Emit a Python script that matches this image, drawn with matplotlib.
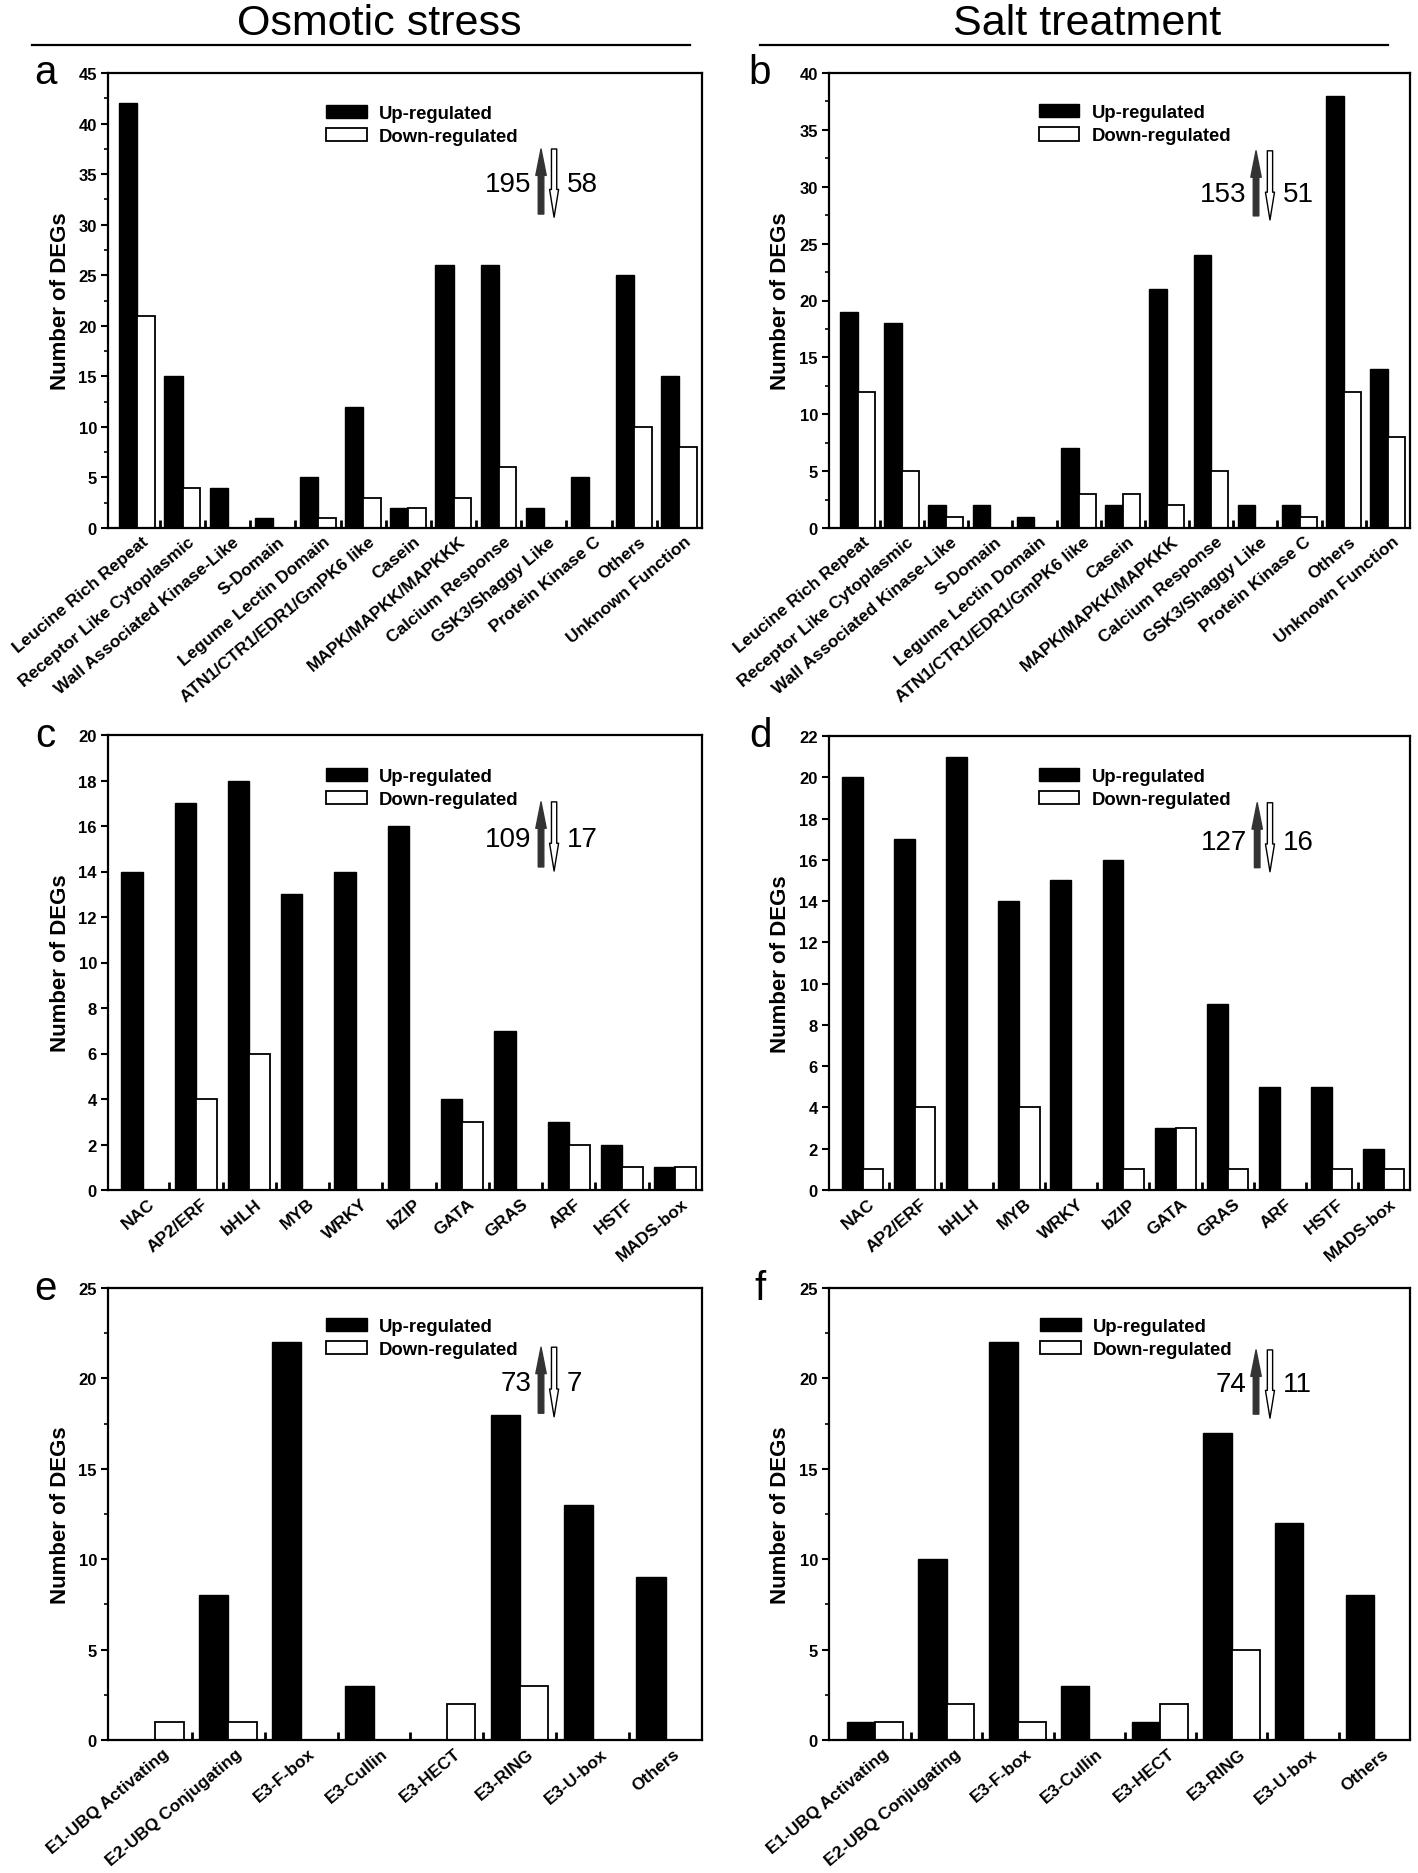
import numpy as np
import matplotlib
matplotlib.use('Agg')
import matplotlib.pyplot as plt
from matplotlib.ticker import MultipleLocator
from matplotlib.lines import Line2D

plt.rcParams['font.family'] = ['Liberation Sans', 'DejaVu Sans']

# protein kinases (a, b)
kinase_cats = ['Leucine Rich Repeat', 'Receptor Like Cytoplasmic', 'Wall Associated Kinase-Like',
               'S-Domain', 'Legume Lectin Domain', 'ATN1/CTR1/EDR1/GmPK6 like', 'Casein',
               'MAPK/MAPKK/MAPKKK', 'Calcium Response', 'GSK3/Shaggy Like', 'Protein Kinase C',
               'Others', 'Unknown Function']
osm_kinase_up = [42, 15, 4, 1, 5, 12, 2, 26, 26, 2, 5, 25, 15]
osm_kinase_down = [21, 4, 0, 0, 1, 3, 2, 3, 6, 0, 0, 10, 8]
salt_kinase_up = [19, 18, 2, 2, 1, 7, 2, 21, 24, 2, 2, 38, 14]
salt_kinase_down = [12, 5, 1, 0, 0, 3, 3, 2, 5, 0, 1, 12, 8]

# transcription factors (c, d)
tf_cats = ['NAC', 'AP2/ERF', 'bHLH', 'MYB', 'WRKY', 'bZIP', 'GATA', 'GRAS', 'ARF', 'HSTF', 'MADS-box']
osm_tf_up = [14, 17, 18, 13, 14, 16, 4, 7, 3, 2, 1]
osm_tf_down = [0, 4, 6, 0, 0, 0, 3, 0, 2, 1, 1]
salt_tf_up = [20, 17, 21, 14, 15, 16, 3, 9, 5, 5, 2]
salt_tf_down = [1, 4, 0, 4, 0, 1, 3, 1, 0, 1, 1]

# ubiquitin pathway (e, f)
ubq_cats = ['E1-UBQ Activating', 'E2-UBQ Conjugating', 'E3-F-box', 'E3-Cullin', 'E3-HECT',
            'E3-RING', 'E3-U-box', 'Others']
osm_ubq_up = [0, 8, 22, 3, 0, 18, 13, 9]
osm_ubq_down = [1, 1, 0, 0, 2, 3, 0, 0]
salt_ubq_up = [1, 10, 22, 3, 1, 17, 12, 8]
salt_ubq_down = [1, 2, 1, 0, 2, 5, 0, 0]

# total up / down counts shown next to the arrows
totals = {'a': (195, 58), 'b': (153, 51), 'c': (109, 17), 'd': (127, 16), 'e': (73, 7), 'f': (74, 11)}

W, H = 1418, 1874
fig = plt.figure(figsize=(W / 100, H / 100), dpi=100)


def box(l, t, r, b):
    return [l / W, 1 - b / H, (r - l) / W, (b - t) / H]


def draw_panel(ax, cats, up, down, ymax, step, minor, tot, leg, arr):
    n = len(cats)
    x = np.arange(n)
    axw = ax.get_position().width * W
    ax.bar(x + 0.1, up, width=0.4, align='edge', color='black', edgecolor='black', lw=1, label='Up-regulated')
    ax.bar(x + 0.5, down, width=0.39, align='edge', color='white', edgecolor='black', lw=1.3,
           label='Down-regulated')
    ax.set_xlim(-0.15, n)
    ax.set_ylim(0, ymax)

    ax.set_xticks(x + 0.6)
    ax.set_xticklabels(cats, rotation=40, ha='right', rotation_mode='anchor', fontsize=12.5,
                       fontweight='bold')
    ax.tick_params(axis='x', which='major', length=0, pad=4)
    ax.set_xticks(np.arange(1, n), minor=True)
    ax.tick_params(axis='x', which='minor', direction='in', length=5.5, width=2)

    ax.set_yticks(np.arange(0, ymax + 0.1, step))
    if minor:
        ax.yaxis.set_minor_locator(MultipleLocator(minor))
    ax.tick_params(axis='y', which='major', length=5, width=1.5, pad=3, labelsize=12)
    ax.tick_params(axis='y', which='minor', length=3, width=1.2)
    for lab in ax.get_yticklabels():
        lab.set_fontweight('bold')
    ax.set_ylabel('Number of DEGs', fontsize=16, fontweight='bold', va='center')
    ax.yaxis.set_label_coords(-48 / axw, 0.5)
    for s in ax.spines.values():
        s.set_linewidth(1.6)

    ax.legend(loc='upper left', bbox_to_anchor=leg, frameon=False, handlelength=2.2,
              handleheight=0.75, handletextpad=0.65, labelspacing=0.32, borderaxespad=0, borderpad=0,
              prop={'weight': 'bold', 'size': 13.3})

    ux, dx, ytop, ubot, dbot, ynum = arr
    ax.annotate('', xy=(ux, ytop), xytext=(ux, ubot), xycoords='axes fraction',
                arrowprops=dict(arrowstyle='simple,head_length=1.9,head_width=0.75,tail_width=0.4',
                                mutation_scale=10, fc='#333333', ec='#333333', shrinkA=0, shrinkB=0))
    ax.annotate('', xy=(dx, dbot), xytext=(dx, ytop), xycoords='axes fraction',
                arrowprops=dict(arrowstyle='simple,head_length=2.0,head_width=0.65,tail_width=0.38',
                                mutation_scale=10, fc='white', ec='black', lw=1, shrinkA=0, shrinkB=0))
    ax.text(ux - 10 / axw, ynum, str(tot[0]), transform=ax.transAxes, ha='right', va='center', fontsize=20)
    ax.text(dx + 13 / axw, ynum, str(tot[1]), transform=ax.transAxes, ha='left', va='center', fontsize=20)


ax_a = fig.add_axes(box(108, 74, 702, 529))
ax_b = fig.add_axes(box(829, 74, 1410, 529))
ax_c = fig.add_axes(box(108, 736, 702, 1191))
ax_d = fig.add_axes(box(829, 737, 1410, 1191))
ax_e = fig.add_axes(box(108, 1289, 702, 1741))
ax_f = fig.add_axes(box(829, 1289, 1410, 1741))

draw_panel(ax_a, kinase_cats, osm_kinase_up, osm_kinase_down, 45, 5, 2.5, totals['a'],
           (0.367, 0.930), (0.729, 0.751, 0.833, 0.690, 0.683, 0.756))
draw_panel(ax_b, kinase_cats, salt_kinase_up, salt_kinase_down, 40, 5, 2.5, totals['b'],
           (0.361, 0.932), (0.735, 0.759, 0.829, 0.686, 0.677, 0.734))
draw_panel(ax_c, tf_cats, osm_tf_up, osm_tf_down, 20, 2, None, totals['c'],
           (0.367, 0.928), (0.729, 0.751, 0.853, 0.710, 0.701, 0.771))
draw_panel(ax_d, tf_cats, salt_tf_up, salt_tf_down, 22, 2, None, totals['d'],
           (0.361, 0.930), (0.737, 0.759, 0.853, 0.710, 0.701, 0.767))
draw_panel(ax_e, ubq_cats, osm_ubq_up, osm_ubq_down, 25, 5, 2.5, totals['e'],
           (0.367, 0.934), (0.729, 0.751, 0.869, 0.723, 0.715, 0.790))
draw_panel(ax_f, ubq_cats, salt_ubq_up, salt_ubq_down, 25, 5, 2.5, totals['f'],
           (0.363, 0.934), (0.735, 0.759, 0.863, 0.721, 0.712, 0.788))

# column headers with rules underneath
fig.text(379 / W, 1 - 35 / H, 'Osmotic stress', ha='center', va='baseline', fontsize=31)
fig.text(1087 / W, 1 - 35 / H, 'Salt treatment', ha='center', va='baseline', fontsize=31)
fig.add_artist(Line2D([32 / W, 690 / W], [1 - 46 / H] * 2, transform=fig.transFigure, color='black', lw=1.6))
fig.add_artist(Line2D([760 / W, 1388 / W], [1 - 46 / H] * 2, transform=fig.transFigure, color='black', lw=1.6))

for letter, (lx, ly) in zip('abcdef', [(45, 84), (760, 84), (45, 747), (760, 747), (45, 1300), (760, 1300)]):
    fig.text(lx / W, 1 - ly / H, letter, ha='center', va='baseline', fontsize=29)

fig.savefig('out.png', dpi=100)
